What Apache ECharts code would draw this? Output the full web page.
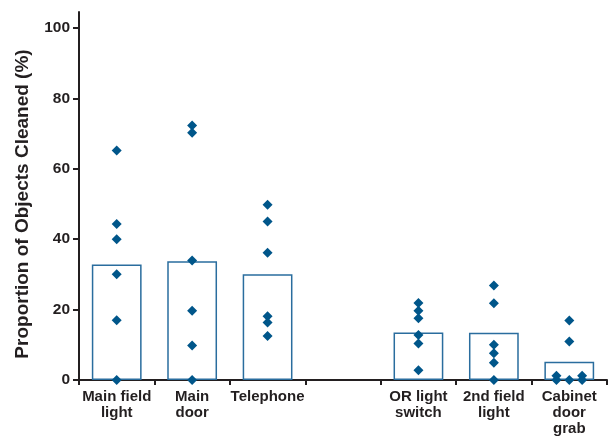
<!DOCTYPE html>
<html>
<head>
<meta charset="utf-8">
<script src="https://cdn.jsdelivr.net/npm/echarts@6/dist/echarts.min.js"></script>
<style>html,body{margin:0;padding:0;background:#fff}#c{width:610px;height:440px}</style>
</head>
<body>
<div id="c"></div>
<script>
var categories = ['Main field\nlight', 'Main\ndoor', 'Telephone', '', 'OR light\nswitch', '2nd field\nlight', 'Cabinet\ndoor\ngrab'];
var barValues = [32.8, 33.7, 30.0, null, 13.5, 13.4, 5.2];
var mainFieldLight = [65.2, 44.3, 40.0, 30.0, 17.0, 0];
var mainDoor = [72.3, 70.2, 33.9, 19.7, 9.8, 0];
var telephone = [49.8, 45.0, 36.1, 18.1, 16.3, 12.5];
var orLightSwitch = [21.9, 19.7, 17.5, 12.8, 10.4, 2.8];
var secondFieldLight = [26.8, 21.8, 10.0, 7.6, 4.9, 0];
var cabinetDoorGrab = [16.9, 10.9, 1.2, 0, 0, 1.2, 0];
var cabinetJitter = [0, 0, -0.17, -0.17, 0, 0.17, 0.17];
var yTicks = [0, 20, 40, 60, 80, 100];

var groups = [mainFieldLight, mainDoor, telephone, null, orLightSwitch, secondFieldLight, cabinetDoorGrab];
var pts = [];
groups.forEach(function (g, i) {
  if (!g) return;
  g.forEach(function (v, j) {
    var jit = (g === cabinetDoorGrab) ? cabinetJitter[j] : 0;
    pts.push([i + jit, v]);
  });
});

var txt = '#231f20';
var chart = echarts.init(document.getElementById('c'));
chart.setOption({
  animation: false,
  grid: { left: 79, right: 3, top: 12, bottom: 60, containLabel: false },
  xAxis: [{
    type: 'category',
    data: categories,
    axisLine: { lineStyle: { color: txt, width: 2 } },
    axisTick: { show: true, length: 5, lineStyle: { color: txt, width: 2 } },
    axisLabel: { interval: 0, color: txt, fontFamily: 'Liberation Sans', fontWeight: 'bold', fontSize: 15, lineHeight: 16, margin: 9 },
    splitLine: { show: false }
  }, {
    type: 'value',
    min: -0.5, max: 6.5,
    show: false
  }],
  yAxis: {
    type: 'value',
    min: 0, max: 104.5,
    name: 'Proportion of Objects Cleaned (%)',
    nameLocation: 'middle',
    nameGap: 47,
    nameRotate: 90,
    nameTextStyle: { color: txt, fontFamily: 'Liberation Sans', fontWeight: 'bold', fontSize: 19, padding: [0, 16, 0, 0] },
    axisLine: { show: true, onZero: false, lineStyle: { color: txt, width: 2 } },
    axisTick: { show: true, length: 6, customValues: yTicks, lineStyle: { color: txt, width: 2 } },
    axisLabel: { customValues: yTicks, color: txt, fontFamily: 'Liberation Sans', fontWeight: 'bold', fontSize: 15.5, margin: 9 },
    splitLine: { show: false }
  },
  series: [{
    type: 'bar',
    xAxisIndex: 0,
    data: barValues.map(function (v) { return v === null ? '-' : v; }),
    barWidth: '66%',
    itemStyle: { color: '#ffffff', borderColor: '#2a6d9e', borderWidth: 1.5 }
  }, {
    type: 'scatter',
    xAxisIndex: 1,
    data: pts,
    symbol: 'diamond',
    symbolSize: [10, 10],
    itemStyle: { color: '#00568a', opacity: 1 },
    z: 5
  }]
});
</script>
</body>
</html>
